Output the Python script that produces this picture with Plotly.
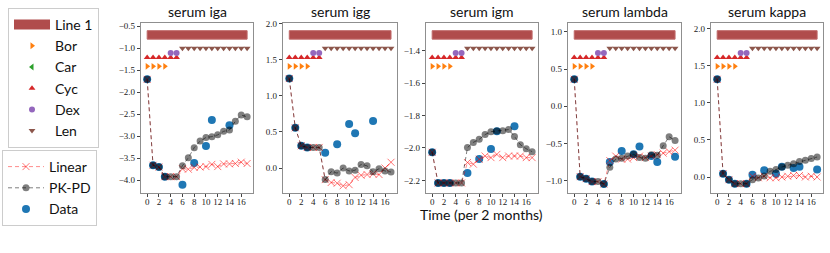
import plotly.graph_objects as go

time = list(range(18))
titles = ["serum iga", "serum igg", "serum igm", "serum lambda", "serum kappa"]

pkpd_iga = [-1.71, -3.66, -3.70, -3.92, -3.92, -3.92, -3.67, -3.49, -3.26, -3.11, -3.03, -3.01, -2.97, -2.89, -2.86, -2.66, -2.52, -2.56]
linear_iga = [-1.71, -3.66, -3.70, -3.92, -3.92, -3.92, -3.74, -3.75, -3.71, -3.70, -3.69, -3.64, -3.69, -3.63, -3.63, -3.62, -3.59, -3.62]
data_iga = [-1.71, -3.66, -3.70, -3.92, None, None, -4.10, None, -3.61, None, -3.22, -2.63, None, None, -2.75, None, None, None]

pkpd_igg = [1.237, 0.556, 0.308, 0.285, 0.285, 0.285, -0.16, -0.05, -0.07, 0.0, -0.04, -0.03, 0.05, 0.03, -0.05, -0.01, -0.04, -0.055]
linear_igg = [1.237, 0.556, 0.308, 0.285, 0.285, 0.285, -0.16, -0.20, -0.21, -0.245, -0.23, -0.13, -0.10, -0.09, -0.08, -0.09, 0.0, 0.08]
data_igg = [1.237, 0.556, 0.308, 0.285, None, None, 0.21, None, 0.33, None, 0.61, 0.48, None, None, 0.65, None, None, None]

pkpd_igm = [-2.027, -2.216, -2.216, -2.216, -2.216, -2.216, -1.998, -1.966, -1.947, -1.918, -1.90, -1.896, -1.894, -1.887, -1.929, -1.98, -2.005, -2.023]
linear_igm = [-2.027, -2.216, -2.216, -2.216, -2.216, -2.216, -2.09, -2.10, -2.07, -2.05, -2.06, -2.04, -2.06, -2.05, -2.05, -2.05, -2.06, -2.06]
data_igm = [-2.027, -2.216, -2.216, -2.216, None, None, -2.155, None, -2.068, None, -2.007, -1.898, None, None, -1.867, None, None, None]

pkpd_lambda = [0.363, -0.946, -0.973, -1.013, -1.013, -1.045, -0.82, -0.71, -0.70, -0.67, -0.646, -0.69, -0.70, -0.65, -0.66, -0.53, -0.41, -0.46]
linear_lambda = [0.363, -0.946, -0.973, -1.013, -1.013, -1.045, -0.73, -0.67, -0.71, -0.71, -0.69, -0.67, -0.69, -0.67, -0.65, -0.63, -0.61, -0.59]
data_lambda = [0.363, -0.946, -0.973, -1.013, None, -1.045, -0.75, None, -0.60, None, -0.646, -0.54, None, -0.67, -0.75, None, None, -0.68]

pkpd_kappa = [1.32, 0.045, -0.036, -0.09, -0.09, -0.09, -0.036, -0.014, 0.014, 0.077, 0.10, 0.135, 0.158, 0.18, 0.21, 0.225, 0.25, 0.27]
linear_kappa = [1.32, 0.045, -0.036, -0.09, -0.09, -0.09, 0.01, -0.01, 0.01, -0.01, -0.01, 0.0, 0.01, 0.02, 0.02, 0.0, 0.01, 0.0]
data_kappa = [1.32, 0.045, -0.036, -0.09, None, -0.09, 0.03, None, 0.09, None, 0.045, 0.14, None, 0.12, 0.14, None, None, 0.10]

pkpd = [pkpd_iga, pkpd_igg, pkpd_igm, pkpd_lambda, pkpd_kappa]
linear = [linear_iga, linear_igg, linear_igm, linear_lambda, linear_kappa]
data = [data_iga, data_igg, data_igm, data_lambda, data_kappa]

y_ranges = [[-4.29, -0.43], [-0.345, 2.005], [-2.278, -1.23], [-1.166, 1.12], [-0.216, 2.08]]
y_ticks = [[-4.0, -3.5, -3.0, -2.5, -2.0, -1.5, -1.0, -0.5],
           [0.0, 0.5, 1.0, 1.5, 2.0],
           [-2.2, -2.0, -1.8, -1.6, -1.4],
           [-1.0, -0.5, 0.0, 0.5, 1.0],
           [0.0, 0.5, 1.0, 1.5, 2.0]]
x_ticks = [0, 2, 4, 6, 8, 10, 12, 14, 16]

# treatment schedule (times on treatment) and lane level (fraction of panel height)
line1_span = [0, 17]
drugs = ["Bor", "Car", "Cyc", "Dex", "Len"]
drug_times = {"Bor": [0, 1, 2, 3], "Car": [], "Cyc": [0, 1, 2, 3, 4, 5], "Dex": [4, 5], "Len": list(range(6, 18))}
drug_lane = {"Bor": 0.745, "Car": 0.77, "Cyc": 0.797, "Dex": 0.823, "Len": 0.852}
drug_color = {"Bor": "#ff7f0e", "Car": "#2ca02c", "Cyc": "#d62728", "Dex": "#9467bd", "Len": "#8c564b"}
drug_symbol = {"Bor": "triangle-right", "Car": "triangle-left", "Cyc": "triangle-up", "Dex": "circle", "Len": "triangle-down"}
line1_lane = [0.905, 0.955]

W, H = 830, 253
x_domains = [(141, 253), (283, 397), (426, 538), (568, 681), (711, 823)]
y_dom = [1 - 193 / H, 1 - 23 / H]

fig = go.Figure()
tickfont = dict(family="Liberation Serif", size=9, color="#222")
axcol = "#8f8f8f"
bar_color = "#b04c4c"

# legend-only entry for the Line 1 patch
fig.add_trace(go.Scatter(
    x=[None], y=[None], mode="lines", line=dict(color=bar_color, width=12),
    name="Line 1", legend="legend", legendrank=1, hoverinfo="skip"))

for i in range(5):
    n = i + 1
    xa = "x" if n == 1 else f"x{n}"
    ya = "y" if n == 1 else f"y{n}"
    yo = f"y{n + 5}"
    show = (i == 0)
    # Line 1 bar
    fig.add_trace(go.Scatter(
        x=[line1_span[0], line1_span[1], line1_span[1], line1_span[0], line1_span[0]],
        y=[line1_lane[0], line1_lane[0], line1_lane[1], line1_lane[1], line1_lane[0]],
        fill="toself", fillcolor=bar_color, mode="lines",
        line=dict(color="#c06a6a", width=1),
        name="Line 1", showlegend=False,
        xaxis=xa, yaxis=yo, hoverinfo="skip"))
    for k, d in enumerate(drugs):
        tx = drug_times[d] if drug_times[d] else [None]
        fig.add_trace(go.Scatter(
            x=tx, y=[drug_lane[d]] * len(tx),
            mode="markers", marker=dict(symbol=drug_symbol[d], color=drug_color[d], size=6),
            name=d, legendgroup=d, showlegend=show, legend="legend", legendrank=2 + k,
            xaxis=xa, yaxis=yo))
    fig.add_trace(go.Scatter(
        x=time, y=data[i], mode="markers",
        marker=dict(color="#1f77b4", size=8),
        name="Data", legendgroup="Data", showlegend=show, legend="legend2", legendrank=30,
        xaxis=xa, yaxis=ya))
    fig.add_trace(go.Scatter(
        x=time, y=linear[i], mode="lines+markers",
        line=dict(color="rgba(255,0,0,0.45)", width=1, dash="4px,3px"),
        marker=dict(symbol="x-thin", size=7, line=dict(width=1, color="rgba(255,0,0,0.55)")),
        name="Linear", legendgroup="Linear", showlegend=show, legend="legend2", legendrank=10,
        xaxis=xa, yaxis=ya))
    fig.add_trace(go.Scatter(
        x=time, y=pkpd[i], mode="lines+markers",
        line=dict(color="rgba(0,0,0,0.5)", width=1, dash="4px,3px"),
        marker=dict(symbol="circle", size=7, color="rgba(0,0,0,0.5)"),
        name="PK-PD", legendgroup="PK-PD", showlegend=show, legend="legend2", legendrank=20,
        xaxis=xa, yaxis=ya))

    l, r = x_domains[i]
    fig.layout[f"xaxis{n}"] = dict(
        domain=[l / W, r / W], range=[-1.05, 18.0], tickvals=x_ticks, anchor=ya,
        showline=True, mirror=True, linecolor=axcol, linewidth=1.3,
        ticks="outside", ticklen=3, tickcolor="#444", tickfont=tickfont,
        ticklabelstandoff=-3,
        showgrid=False, zeroline=False, fixedrange=True, automargin=False)
    fig.layout[f"yaxis{n}"] = dict(
        domain=y_dom, range=y_ranges[i], tickvals=y_ticks[i], tickformat=".1f", anchor=xa,
        showline=True, mirror=True, linecolor=axcol, linewidth=1.3,
        ticks="outside", ticklen=3, tickcolor="#444", tickfont=tickfont,
        showgrid=False, zeroline=False, fixedrange=True, automargin=False)
    fig.layout[f"yaxis{n + 5}"] = dict(
        overlaying=ya, range=[0, 1], visible=False, anchor=xa, fixedrange=True)
    fig.add_annotation(text=titles[i], xref=f"{xa} domain", yref=f"{ya} domain",
                       x=0.5, y=1, yanchor="bottom", yshift=1, showarrow=False,
                       font=dict(family="Lato", size=14, color="#111"))

fig.add_annotation(text="Time (per 2 months)", xref="paper", yref="paper",
                   x=481 / W, y=1 - 214 / H, xanchor="center", yanchor="middle",
                   showarrow=False, font=dict(family="Lato", size=14, color="#111"))

legend_style = dict(bgcolor="white", bordercolor="#cccccc", borderwidth=1,
                    font=dict(family="Lato", size=14, color="#111"),
                    xanchor="left", yanchor="top", itemwidth=36, itemclick=False,
                    tracegroupgap=0)
fig.update_layout(
    width=W, height=H, margin=dict(l=0, r=0, t=0, b=0, autoexpand=False),
    paper_bgcolor="white", plot_bgcolor="white",
    legend=dict(x=8 / W, y=1 - 8 / H, **legend_style),
    legend2=dict(x=2 / W, y=1 - 150 / H, **legend_style),
)

fig.write_html("out.html", config={"displayModeBar": False},
               post_script="document.body.style.margin='0';document.body.style.overflow='hidden';")
